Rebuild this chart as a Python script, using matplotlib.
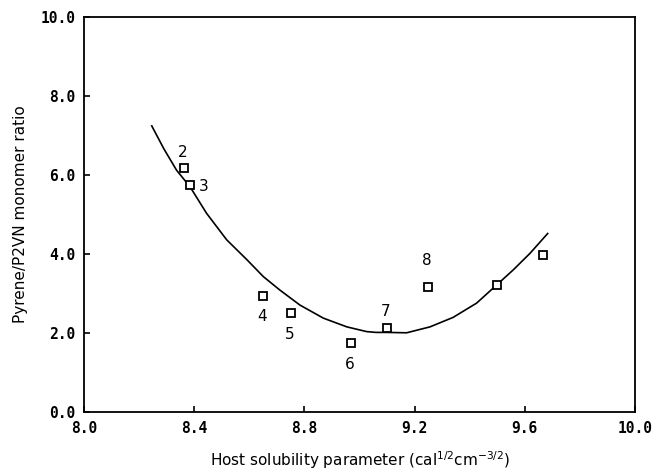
import numpy as np
import matplotlib
matplotlib.use("Agg")
import matplotlib.pyplot as plt

# measured points (host solubility parameter, monomer ratio)
sol_param = [8.364, 8.385, 8.651, 8.750, 8.968, 9.099, 9.250, 9.498, 9.665]
ratio = [6.18, 5.75, 2.95, 2.50, 1.76, 2.12, 3.16, 3.22, 3.98]
point_labels = ['2', '3', '4', '5', '6', '7', '8', '', '']

# smooth trend curve through the data
curve_x = [8.246, 8.290, 8.336, 8.385, 8.445, 8.518, 8.591, 8.651, 8.711, 8.784,
           8.869, 8.954, 9.026, 9.060, 9.099, 9.171, 9.256, 9.340, 9.425,
           9.498, 9.558, 9.619, 9.683]
curve_y = [7.24, 6.66, 6.12, 5.70, 5.03, 4.36, 3.86, 3.43, 3.09, 2.71,
           2.38, 2.16, 2.04, 2.02, 2.02, 2.01, 2.16, 2.40, 2.76,
           3.22, 3.60, 4.02, 4.52]

xticks = [8.0, 8.4, 8.8, 9.2, 9.6, 10.0]
yticks = [0.0, 2.0, 4.0, 6.0, 8.0, 10.0]

fig = plt.figure(figsize=(6.55, 4.73), dpi=100)
ax = fig.add_axes([0.1282, 0.1283, 0.8413, 0.8364])

ax.plot(curve_x, curve_y, color='black', lw=1.2)
ax.plot(sol_param, ratio, linestyle='none', marker='s', markersize=5.5,
        markerfacecolor='white', markeredgecolor='black', markeredgewidth=1.3)

# label offsets (points) for each numbered sample
offsets = {'2': (-1, 11), '3': (10, -1), '4': (-1, -15), '5': (-1, -15),
           '6': (-1, -16), '7': (-1, 12), '8': (-1, 19)}
for x, y, lab in zip(sol_param, ratio, point_labels):
    if lab:
        ax.annotate(lab, (x, y), xytext=offsets[lab], textcoords='offset points',
                    ha='center', va='center', fontsize=11,
                    family='DejaVu Sans Condensed')

ax.set_xlim(8.0, 10.0)
ax.set_ylim(0.0, 10.0)
ax.set_xticks(xticks)
ax.set_yticks(yticks)
ax.set_xticklabels(['%.1f' % t for t in xticks], family='DejaVu Sans Mono',
                   fontweight='bold', fontsize=10.5)
ax.set_yticklabels(['%.1f' % t for t in yticks], family='DejaVu Sans Mono',
                   fontweight='bold', fontsize=10.5)
ax.tick_params(direction='in', length=4, width=1.2, pad=6)
for s in ax.spines.values():
    s.set_linewidth(1.3)

ax.set_ylabel('Pyrene/P2VN monomer ratio', fontsize=11, labelpad=9)
ax.set_xlabel(r'Host solubility parameter (cal$^{1/2}$cm$^{-3/2}$)',
              fontsize=11, labelpad=10)

plt.savefig("out.png", dpi=100)
